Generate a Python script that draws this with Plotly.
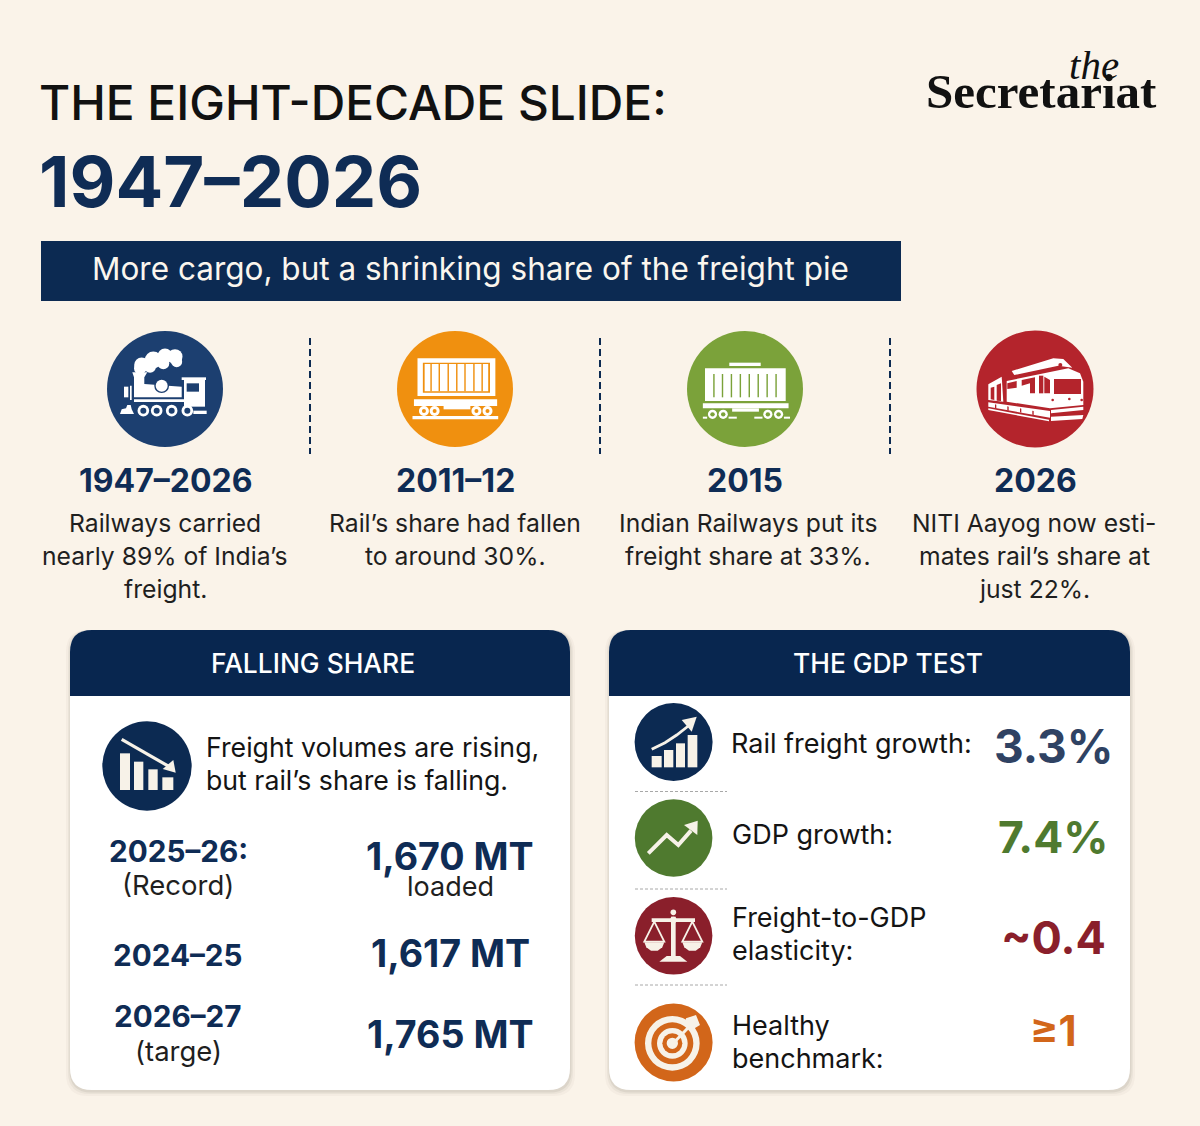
"""The eight-decade slide: rail freight infographic drawn on a pixel-sized Plotly canvas."""
import plotly.graph_objects as go

WIDTH = 1200
HEIGHT = 1126

NAVY = "#0c2a52"
BG = "#faf3e9"
WHITE = "#ffffff"
CREAM = "#f7f2e8"
INK = "#141414"

# text and values
title_line = "THE EIGHT-DECADE SLIDE:"
title_years = "1947–2026"
banner_text = "More cargo, but a shrinking share of the freight pie"

milestone_years = ["1947–2026", "2011–12", "2015", "2026"]
milestone_text = [
    ["Railways carried", "nearly 89% of India’s", "freight."],
    ["Rail’s share had fallen", "to around 30%."],
    ["Indian Railways put its", "freight share at 33%."],
    ["NITI Aayog now esti-", "mates rail’s share at", "just 22%."],
]
milestone_colors = ["#1c3f70", "#f0900f", "#7ba23a", "#b4242c"]

card_titles = ["FALLING SHARE", "THE GDP TEST"]
falling_intro = ["Freight volumes are rising,", "but rail’s share is falling."]
freight_periods = ["2025–26:", "2024–25", "2026–27"]
freight_notes = ["(Record)", "", "(targe)"]
freight_values = ["1,670 MT", "1,617 MT", "1,765 MT"]
freight_value_note = "loaded"

gdp_labels = [
    ["Rail freight growth:"],
    ["GDP growth:"],
    ["Freight-to-GDP", "elasticity:"],
    ["Healthy", "benchmark:"],
]
gdp_values = ["3.3%", "7.4%", "~0.4", "≥1"]
gdp_colors = ["#2f4263", "#4f7a2f", "#8a1f2b", "#d2661a"]
gdp_icon_colors = ["#0c2a52", "#4f7a2f", "#8a1f2b", "#d2661a"]

fig = go.Figure()
shapes = []
notes = []


def text(x, y, s, size, color=INK, weight=400, anchor="center", family="Inter", style="normal"):
    notes.append(dict(
        x=x, y=y, text=s, showarrow=False, xanchor=anchor, yanchor="middle",
        xref="x", yref="y",
        font=dict(family=family, size=size, color=color, weight=weight, style=style),
    ))


def rect(x0, y0, x1, y1, color):
    shapes.append(dict(type="rect", x0=x0, y0=y0, x1=x1, y1=y1, fillcolor=color, line_width=0))


def circle(cx, cy, r, color):
    shapes.append(dict(type="circle", x0=cx - r, y0=cy - r, x1=cx + r, y1=cy + r,
                       fillcolor=color, line_width=0))


def poly(points, color):
    d = "M " + " L ".join(f"{x:.1f},{y:.1f}" for x, y in points) + " Z"
    shapes.append(dict(type="path", path=d, fillcolor=color, line_width=0))


def stroke(points, color, width, dash="solid"):
    d = "M " + " L ".join(f"{x:.1f},{y:.1f}" for x, y in points)
    shapes.append(dict(type="path", path=d, line=dict(color=color, width=width, dash=dash)))


def rounded(x0, y0, x1, y1, r, color, bottom=True, opacity=1):
    rb = r if bottom else 0
    d = (f"M {x0},{y0 + r} Q {x0},{y0} {x0 + r},{y0} L {x1 - r},{y0} Q {x1},{y0} {x1},{y0 + r} "
         f"L {x1},{y1 - rb} Q {x1},{y1} {x1 - rb},{y1} L {x0 + rb},{y1} Q {x0},{y1} {x0},{y1 - rb} Z")
    shapes.append(dict(type="path", path=d, fillcolor=color, line_width=0, opacity=opacity))


def mapper(ox, oy, sx, sy):
    # icon outlines are measured on enlarged crops, this maps them back to the canvas
    return lambda x, y: (ox + x / sx, oy + y / sy)


def z_rect(m, x0, y0, x1, y1, color):
    a, b = m(x0, y0), m(x1, y1)
    rect(a[0], a[1], b[0], b[1], color)


def z_poly(m, pts, color):
    poly([m(*p) for p in pts], color)


def z_circle(m, x, y, r, color):
    cx, cy = m(x, y)
    circle(cx, cy, r, color)


def loco_icon():
    c = milestone_colors[0]
    m = mapper(110, 340, 3, 3)
    circle(165, 389, 58, c)
    for x, y, r in [(95, 75, 7.5), (130, 60, 8.5), (165, 48, 7.5), (195, 50, 7.5), (200, 65, 5.5),
                    (160, 70, 6), (120, 80, 6), (90, 85, 6)]:
        z_circle(m, x, y, r, WHITE)
    z_poly(m, [(67, 97), (112, 97), (103, 112), (103, 132), (215, 140), (215, 172), (72, 172), (72, 112)], WHITE)
    z_circle(m, 155, 137, 7.4, c)
    z_circle(m, 155, 137, 6, WHITE)
    z_rect(m, 215, 112, 288, 120, WHITE)
    z_rect(m, 222, 120, 285, 200, WHITE)
    z_rect(m, 230, 130, 267, 155, c)
    z_rect(m, 42, 140, 55, 172, WHITE)
    z_rect(m, 60, 137, 65, 180, WHITE)
    z_rect(m, 72, 178, 222, 186, WHITE)
    z_poly(m, [(30, 222), (35, 208), (48, 205), (52, 195), (62, 195), (65, 208), (72, 222)], WHITE)
    z_rect(m, 250, 212, 290, 222, WHITE)
    for x in (100, 140, 185, 232):
        z_circle(m, x, 212, 5.8, WHITE)
        z_circle(m, x, 212, 3, c)


def box_wagon_icon():
    c = milestone_colors[1]
    m = mapper(40, 320, 2.8, 3)
    circle(455, 389, 58, c)
    z_rect(m, 1057, 115, 1275, 228, WHITE)
    z_rect(m, 1072, 128, 1260, 218, c)
    z_rect(m, 1077, 132, 1255, 214, WHITE)
    for x in (1095, 1118, 1143, 1167, 1190, 1215, 1238):
        z_rect(m, x - 2, 132, x + 2, 214, c)
    z_rect(m, 1047, 238, 1280, 258, WHITE)
    z_rect(m, 1130, 258, 1205, 268, WHITE)
    z_rect(m, 1043, 288, 1283, 298, WHITE)
    for x in (1075, 1105, 1222, 1253):
        z_circle(m, x, 273, 5, WHITE)
        z_circle(m, x, 273, 2, c)


def container_icon():
    c = milestone_colors[2]
    m = mapper(600, 320, 2.8, 3)
    circle(745, 389, 58, c)
    z_rect(m, 362, 128, 450, 138, WHITE)
    z_rect(m, 294, 145, 520, 243, WHITE)
    for x in (319, 343, 368, 393, 418, 443, 468, 493):
        z_rect(m, x - 2, 162, x + 2, 232, c)
    z_rect(m, 288, 250, 528, 265, WHITE)
    z_rect(m, 370, 265, 445, 275, WHITE)
    for x0, x1 in [(288, 300), (360, 383), (432, 455), (515, 532)]:
        z_rect(m, x0, 290, x1, 296, WHITE)
    for x in (315, 345, 470, 500):
        z_circle(m, x, 283, 4.6, WHITE)
        z_circle(m, x, 283, 2.2, c)


def train_icon():
    c = milestone_colors[3]
    m = mapper(975, 345, 3, 3)
    circle(1035, 389, 58.5, c)
    # roof strip
    z_poly(m, [(110, 78), (235, 40), (265, 42), (292, 68), (250, 62), (118, 90)], WHITE)
    z_circle(m, 256, 60, 2, c)
    # main car
    z_poly(m, [(95, 108), (280, 70), (315, 85), (325, 110), (325, 180), (225, 190), (95, 170)], WHITE)
    z_rect(m, 237, 102, 318, 147, c)
    z_rect(m, 192, 92, 205, 145, c)
    z_poly(m, [(208, 95), (225, 105), (225, 145), (208, 145)], c)
    z_poly(m, [(97, 115), (125, 108), (125, 128), (97, 132)], c)
    z_poly(m, [(140, 105), (180, 97), (180, 145), (165, 145), (165, 115), (140, 122)], c)
    for x, y in [(233, 165), (283, 162), (320, 165)]:
        z_circle(m, x, y, 1.3, c)
    # rear car
    z_poly(m, [(40, 118), (80, 95), (85, 170), (40, 165)], WHITE)
    z_poly(m, [(47, 128), (58, 125), (58, 165), (47, 163)], c)
    z_poly(m, [(65, 120), (78, 115), (78, 168), (65, 167)], c)
    # running gear
    z_poly(m, [(40, 172), (225, 198), (225, 218), (40, 185)], WHITE)
    for x, y in [(60, 178), (97, 184), (135, 190), (172, 197)]:
        z_poly(m, [(x, y), (x + 4, y + 1), (x + 4, y + 13), (x, y + 12)], c)
    z_poly(m, [(40, 190), (222, 224), (222, 229), (40, 195)], WHITE)
    z_poly(m, [(228, 195), (325, 185), (325, 195), (228, 205)], WHITE)
    z_poly(m, [(228, 215), (325, 210), (322, 222), (228, 228)], WHITE)


def falling_icon():
    m = mapper(60, 620, 3, 3)
    circle(147, 766, 44.7, NAVY)
    for x0, x1, y0 in [(180, 210, 400), (222, 250, 425), (265, 293, 448), (307, 340, 472)]:
        z_rect(m, x0, y0, x1, 510, CREAM)
    stroke([m(185, 358), m(328, 440)], CREAM, 3.2)
    z_poly(m, [(347, 458), (340, 420), (308, 447)], CREAM)


def growth_icon(color):
    m = mapper(610, 690, 3, 3)
    circle(673.6, 742, 39, color)
    for x0, x1, y0 in [(125, 155, 198), (162, 190, 180), (198, 225, 160), (233, 262, 135)]:
        z_rect(m, x0, y0, x1, 232, CREAM)
    stroke([m(125, 178), m(165, 158), m(200, 135), m(235, 108)], CREAM, 2.8)
    z_poly(m, [(260, 80), (215, 90), (245, 125)], CREAM)


def gdp_icon(color):
    m = mapper(610, 690, 3, 3)
    circle(673.6, 838, 38.8, color)
    stroke([m(115, 490), m(170, 435), m(205, 465), m(243, 422)], CREAM, 4)
    z_poly(m, [(263, 392), (222, 405), (262, 435)], CREAM)


def scale_icon(color):
    m = mapper(610, 690, 3, 3)
    circle(673.6, 935.8, 38.8, color)
    z_rect(m, 183, 680, 197, 800, CREAM)
    z_rect(m, 125, 685, 255, 696, CREAM)
    z_circle(m, 190, 667, 2.8, CREAM)
    z_circle(m, 190, 690, 3.2, CREAM)
    z_poly(m, [(170, 798), (210, 798), (232, 815), (148, 815)], CREAM)
    for cx in (133, 247):
        stroke([m(cx, 695), m(cx - 30, 755), m(cx + 30, 755), m(cx, 695)], CREAM, 1.8)
        z_poly(m, [(cx - 30, 757), (cx + 30, 757), (cx + 24, 772), (cx + 10, 782),
                   (cx - 10, 782), (cx - 24, 772)], CREAM)


def target_icon(color):
    m = mapper(610, 690, 3, 3)
    circle(673.6, 1042.5, 39, color)
    for r, col in [(82, CREAM), (63, color), (46, CREAM), (30, color), (17, CREAM)]:
        z_circle(m, 187, 1060, r / 3, col)
    stroke([m(190, 1060), m(245, 1002)], CREAM, 3)
    z_poly(m, [(228, 985), (258, 975), (270, 1005), (245, 1020), (225, 1005)], CREAM)


# header
text(37, 103, title_line, 47.8, "#111111", 500, "left")
text(37, 181, title_years, 70.7, "#0f2c55", 700, "left")
rect(41, 241, 901, 301, NAVY)
text(470, 268, banner_text, 31.5, "#fbf6ee", 400)

# logo
text(1094, 65, "the", 41, "#111111", 400, family="Liberation Serif", style="italic")
text(1041, 91, "Secretariat", 49, "#111111", 700, family="Liberation Serif")

# milestone strip
loco_icon()
box_wagon_icon()
container_icon()
train_icon()
for x in (310, 600, 890):
    stroke([(x, 338), (x, 454)], NAVY, 2, "7px,4px")

head_x = [166, 455, 745, 1035]
body_x = [165, 455, 748, 1034]
body_y = [523, 556, 589]
for i, year in enumerate(milestone_years):
    text(head_x[i], 480, year, 32, "#0f2c55", 700)
    for j, line in enumerate(milestone_text[i]):
        text(body_x[i], body_y[j], line, 24.7, "#1f1f1f")

# cards with a soft drop shadow
for x0, x1 in ((70, 570), (609, 1130)):
    for grow, op in ((5, 0.04), (3, 0.06), (1.5, 0.09)):
        rounded(x0 - grow + 1, 630, x1 + grow, 1090 + grow + 1, 22, "#5c5040", opacity=op)
    rounded(x0, 630, x1, 1090, 22, WHITE)
    rounded(x0, 630, x1, 696, 22, "#08264f", bottom=False)

text(313, 663, card_titles[0], 26.4, WHITE, 500)
text(888, 663, card_titles[1], 26.4, WHITE, 500)

# falling share card
falling_icon()
text(204, 747, falling_intro[0], 26.7, INK, 400, "left")
text(204, 780, falling_intro[1], 26.7, INK, 400, "left")

period_y = [851, 955, 1016]
note_y = [885, None, 1051]
value_y = [856, 953, 1034]
for i in range(3):
    text(178, period_y[i], freight_periods[i], 29.7, "#0f2c55", 700)
    if freight_notes[i]:
        text(178, note_y[i], freight_notes[i], 27.5, "#1f1f1f")
    text(450, value_y[i], freight_values[i], 37.6, "#0f2c55", 700)
text(450, 886, freight_value_note, 27, "#1f1f1f")

# gdp test card
growth_icon(gdp_icon_colors[0])
gdp_icon(gdp_icon_colors[1])
scale_icon(gdp_icon_colors[2])
target_icon(gdp_icon_colors[3])
for y in (791.5, 889, 985):
    stroke([(635, y), (727, y)], "#a8a8a8", 1, "3px,2px")

label_x = [729, 730, 730, 730]
label_y = [[743], [834], [917, 950], [1025, 1058]]
value_y2 = [746, 837, 937, 1030]
value_size = [46, 44.5, 45, 42]
for i in range(4):
    for j, line in enumerate(gdp_labels[i]):
        text(label_x[i], label_y[i][j], line, 27, INK, 400, "left")
    text(1053, value_y2[i], gdp_values[i], value_size[i], gdp_colors[i], 700)

fig.update_layout(
    width=WIDTH,
    height=HEIGHT,
    margin=dict(l=0, r=0, t=0, b=0),
    paper_bgcolor=BG,
    plot_bgcolor=BG,
    showlegend=False,
    xaxis=dict(range=[0, WIDTH], visible=False, fixedrange=True),
    yaxis=dict(range=[HEIGHT, 0], visible=False, fixedrange=True),
    shapes=shapes,
    annotations=notes,
)

fig.write_html("out.html", config={"displayModeBar": False},
               post_script="document.body.style.margin='0';document.body.style.overflow='hidden';")
